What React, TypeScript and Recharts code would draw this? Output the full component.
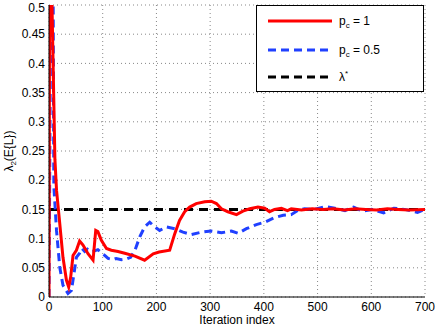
import React from 'react';
import {
  LineChart,
  Line,
  XAxis,
  YAxis,
  CartesianGrid,
  Label,
} from 'recharts';

// iteration index vs lambda_2(E{L}) for p_c = 1
const fullX = [
  0, 1.5, 11, 14, 20, 26, 32.4, 36.7, 40.4, 44.7, 51, 57, 63.3, 72.6, 82, 87, 91, 97.5, 107, 116,
  128.5, 141, 160, 178, 194, 205, 224.7, 234, 243, 252.6, 262, 274, 290, 302, 311.7, 321, 333,
  349, 361, 373.7, 389, 401.6, 410.6, 420, 432.6, 444, 451, 470, 490, 510, 530, 550, 570, 590,
  610, 630, 650, 670, 700,
];
const fullY = [
  0, 0.7, 0.236, 0.183, 0.126, 0.068, 0.029, 0.017, 0.034, 0.071, 0.08, 0.096, 0.089, 0.074,
  0.063, 0.114, 0.112, 0.097, 0.083, 0.08, 0.078, 0.075, 0.07, 0.063, 0.074, 0.077, 0.08, 0.108,
  0.131, 0.146, 0.154, 0.16, 0.163, 0.164, 0.16, 0.151, 0.146, 0.141, 0.147, 0.151, 0.154, 0.152,
  0.146, 0.15, 0.152, 0.148, 0.151, 0.149, 0.151, 0.15, 0.151, 0.149, 0.151, 0.15, 0.149, 0.151,
  0.15, 0.149, 0.15,
];

// p_c = 0.5
const halfX = [
  0, 6, 9, 14, 20, 26, 35.4, 41.7, 46.5, 51, 57, 61.4, 66.4, 71.5, 77, 85, 91, 100.5, 110, 119,
  125, 135, 144, 152, 160, 169, 178, 187.5, 197, 206, 218.6, 234, 249.5, 265, 284, 302, 321,
  339.6, 352, 367.5, 386, 401.6, 420, 436, 451, 464, 476, 495, 514, 532, 551, 567, 583, 601, 623,
  642, 662, 686, 700,
];
const halfY = [
  0, 0.95, 0.19, 0.114, 0.051, 0.02, 0.006, 0.011, 0.04, 0.068, 0.075, 0.083, 0.078, 0.082,
  0.078, 0.079, 0.081, 0.074, 0.066, 0.064, 0.066, 0.064, 0.065, 0.068, 0.08, 0.103, 0.12, 0.128,
  0.12, 0.114, 0.12, 0.117, 0.111, 0.107, 0.111, 0.113, 0.11, 0.113, 0.109, 0.117, 0.124, 0.128,
  0.136, 0.14, 0.141, 0.149, 0.151, 0.15, 0.155, 0.152, 0.148, 0.154, 0.147, 0.15, 0.144, 0.152,
  0.15, 0.145, 0.15,
];

const targetX = [0, 700];
const targetY = [0.15, 0.15];

const xTicks = [0, 100, 200, 300, 400, 500, 600, 700];
const yTicks = [0, 0.05, 0.1, 0.15, 0.2, 0.25, 0.3, 0.35, 0.4, 0.45, 0.5];

const toPoints = (xs: number[], ys: number[]) => xs.map((x, i) => ({ x, y: ys[i] }));

const font = '"Liberation Sans", Arial, sans-serif';
const RED = '#ff0000';
const BLUE = '#2040ff';

const YLabel = () => (
  <text
    x={13}
    y={151}
    transform="rotate(-90, 13, 151)"
    textAnchor="middle"
    fontFamily={font}
    fontSize={12}
    fill="#000"
  >
    λ<tspan fontSize={8} dy={3}>2</tspan>
    <tspan dy={-3}>(E{'{'}L{'}'})</tspan>
  </text>
);

const LegendBox = () => (
  <svg width={170} height={89} style={{ position: 'absolute', left: 255, top: 4 }}>
    <rect x={1.5} y={1.5} width={167} height={86} fill="#fff" stroke="#000" strokeWidth={1} />
    <line x1={13} y1={17} x2={77} y2={17} stroke={RED} strokeWidth={3} />
    <line x1={13} y1={46} x2={77} y2={46} stroke={BLUE} strokeWidth={3} strokeDasharray="8 5" />
    <line x1={13} y1={73} x2={77} y2={73} stroke="#000" strokeWidth={3} strokeDasharray="8 5" />
    <text x={84} y={21} fontFamily={font} fontSize={12} fill="#000">
      p<tspan fontSize={8} dy={3}>c</tspan>
      <tspan dy={-3}> = 1</tspan>
    </text>
    <text x={84} y={50} fontFamily={font} fontSize={12} fill="#000">
      p<tspan fontSize={8} dy={3}>c</tspan>
      <tspan dy={-3}> = 0.5</tspan>
    </text>
    <text x={84} y={77} fontFamily={font} fontSize={12} fill="#000">
      λ<tspan fontSize={8} dy={-5}>*</tspan>
    </text>
  </svg>
);

export default function App() {
  const tickStyle = { fill: '#000', fontSize: 12, fontFamily: font };
  return (
    <div style={{ position: 'absolute', left: 0, top: 0, width: 436, height: 327, background: '#fff' }}>
      <LineChart width={436} height={327} margin={{ top: 5, right: 11, left: 0, bottom: 0 }}>
        <CartesianGrid stroke="#888" strokeDasharray="1 3" />
        <XAxis
          dataKey="x"
          type="number"
          domain={[0, 700]}
          ticks={xTicks}
          height={30}
          tick={tickStyle}
          tickLine={false}
          tickSize={4}
          tickMargin={1}
          axisLine={{ stroke: '#000' }}
          allowDataOverflow
        >
          <Label value="Iteration index" position="insideBottom" offset={3} style={{ fill: '#000', fontSize: 12, fontFamily: font }} />
        </XAxis>
        <XAxis
          xAxisId="top"
          orientation="top"
          type="number"
          domain={[0, 700]}
          height={0}
          tick={false}
          tickLine={false}
          axisLine={{ stroke: '#000' }}
        />
        <YAxis
          type="number"
          domain={[0, 0.5]}
          ticks={yTicks}
          width={49}
          tick={tickStyle}
          tickLine={false}
          tickSize={4}
          tickMargin={0}
          axisLine={{ stroke: '#000' }}
          allowDataOverflow
        >
          <Label content={<YLabel />} />
        </YAxis>
        <YAxis
          yAxisId="right"
          orientation="right"
          type="number"
          domain={[0, 0.5]}
          width={0}
          tick={false}
          tickLine={false}
          axisLine={{ stroke: '#000' }}
        />
        <Line
          data={toPoints(targetX, targetY)}
          dataKey="y"
          stroke="#000"
          strokeWidth={3}
          strokeDasharray="9 6"
          dot={false}
          type="linear"
          isAnimationActive={false}
        />
        <Line
          data={toPoints(halfX, halfY)}
          dataKey="y"
          stroke={BLUE}
          strokeWidth={3}
          strokeDasharray="8 5"
          dot={false}
          type="linear"
          isAnimationActive={false}
        />
        <Line
          data={toPoints(fullX, fullY)}
          dataKey="y"
          stroke={RED}
          strokeWidth={3}
          dot={false}
          type="linear"
          isAnimationActive={false}
        />
      </LineChart>
      <LegendBox />
    </div>
  );
}
